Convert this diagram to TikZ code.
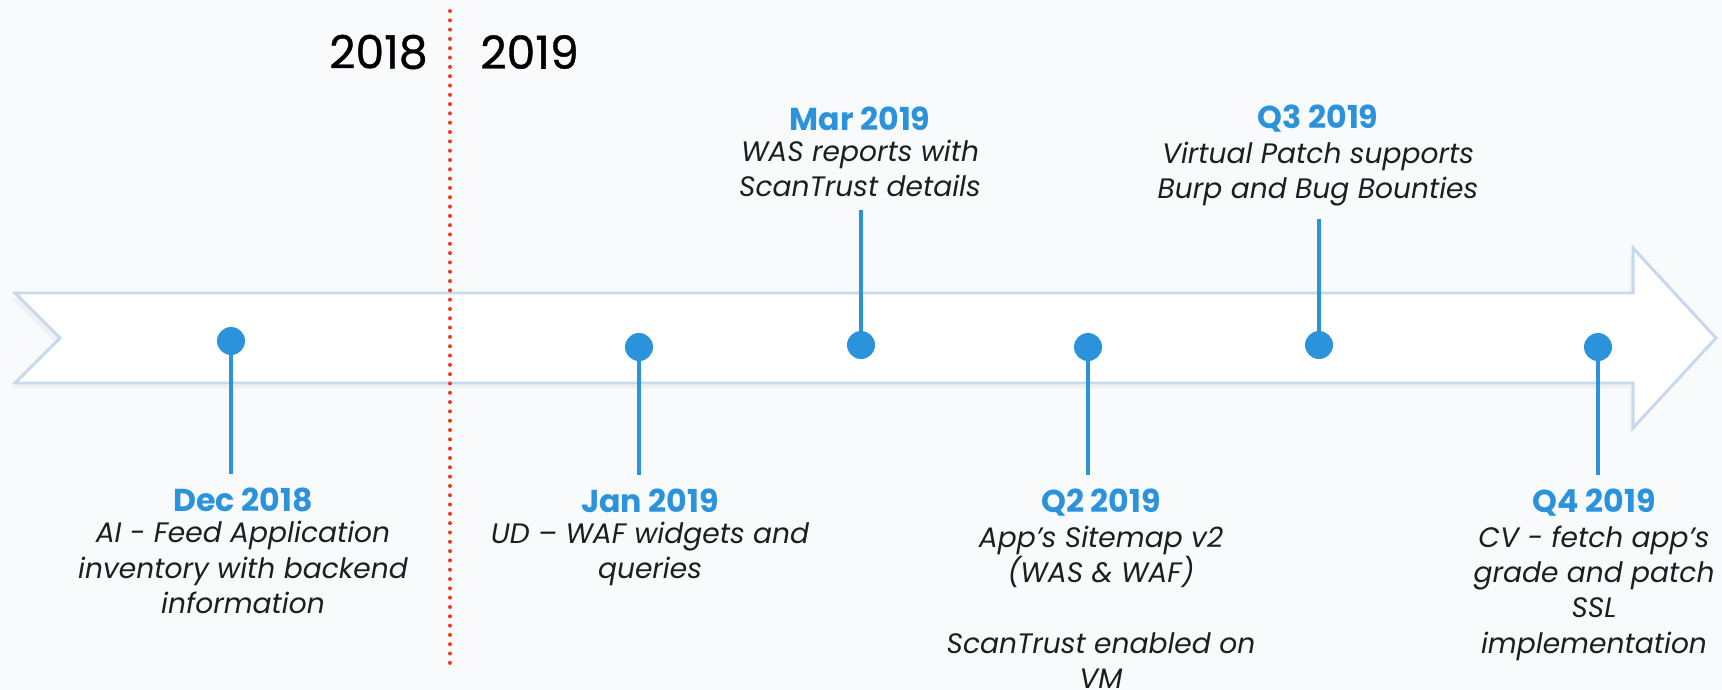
\documentclass[tikz,border=0pt]{standalone}
\usepackage{fontspec}
\setmainfont{Poppins}
\usetikzlibrary{positioning,shadows}
\definecolor{tlblue}{HTML}{2B93DB}
\definecolor{tltext}{HTML}{1E1E1E}
\definecolor{tlback}{HTML}{F8FAFC}
\definecolor{tledge}{HTML}{C7D9EC}
\definecolor{tlred}{HTML}{F23A1E}

\begin{document}
\begin{tikzpicture}[x=0.02cm,y=-0.02cm,
  evdot/.style={circle,fill=tlblue,inner sep=0pt,minimum size=0.56cm},
  evhead/.style={text=tlblue,font=\bfseries\fontsize{18}{20}\selectfont,inner sep=1pt},
  evbody/.style={text=tltext,font=\itshape\fontsize{16}{20}\selectfont,align=center,inner sep=1pt},
  stem/.style={draw=tlblue,line width=2.5pt},
  yearlbl/.style={font=\addfontfeatures{FakeBold=0.8}\fontsize{26}{30}\selectfont,inner sep=0pt}]
\useasboundingbox (0,0) rectangle (1722,690);
\fill[tlback] (0,0) rectangle (1722,690);

\draw[tledge,line width=1.7pt,fill=white,drop shadow={opacity=0.07,shadow xshift=-2pt,shadow yshift=-3pt}]
  (15,293) -- (1633,293) -- (1633,248) -- (1716,338) -- (1633,428) -- (1633,383) -- (15,383) -- (60,338) -- cycle;

\coordinate (divtop) at (450,11);
\coordinate (divbot) at (450,672);
\draw[tlred,line width=2.3pt,line cap=round,dash pattern=on 0pt off 5.3pt] (divtop) -- (divbot);
\node[yearlbl,anchor=east] (y2018) at (428,52) {2018};
\node[yearlbl,anchor=west] (y2019) at (480,52) {2019};

\node[evdot] (dec) at (231,341) {};
\node[evhead] (dechd) at (243,500) {Dec 2018};
\node[evbody,below=3pt of dechd] (decbd) {AI - Feed Application\\inventory with backend\\information};
\draw[stem,shorten >=7pt] (dec) -- (dec |- dechd.north);

\node[evdot] (jan) at (639,347) {};
\node[evhead] (janhd) at (650,501) {Jan 2019};
\node[evbody,below=3pt of janhd] (janbd) {UD – WAF widgets and\\queries};
\draw[stem,shorten >=7pt] (jan) -- (jan |- janhd.north);

\node[evdot] (mar) at (861,345) {};
\node[evhead] (marhd) at (860,119) {Mar 2019};
\node[evbody,below=3pt of marhd] (marbd) {WAS reports with\\ScanTrust details};
\draw[stem,shorten >=6pt] (mar) -- (mar |- marbd.south);

\node[evdot] (qtwo) at (1088,347) {};
\node[evhead] (qtwohd) at (1101,503) {Q2 2019};
\node[evbody,below=3pt of qtwohd] (qtwobd) {App’s Sitemap v2\\(WAS \& WAF)\\[20pt]ScanTrust enabled on\\VM};
\draw[stem,shorten >=7pt] (qtwo) -- (qtwo |- qtwohd.north);

\node[evdot] (qthree) at (1319,345) {};
\node[evhead] (qthreehd) at (1318,119) {Q3 2019};
\node[evbody,below=3pt of qthreehd] (qthreebd) {Virtual Patch supports\\Burp and Bug Bounties};
\draw[stem,shorten >=6pt] (qthree) -- (qthree |- qthreebd.south);

\node[evdot] (qfour) at (1598,347) {};
\node[evhead] (qfourhd) at (1594,503) {Q4 2019};
\node[evbody,below=3pt of qfourhd] (qfourbd) {CV - fetch app’s\\grade and patch\\SSL\\implementation};
\draw[stem,shorten >=7pt] (qfour) -- (qfour |- qfourhd.north);
\end{tikzpicture}
\end{document}
